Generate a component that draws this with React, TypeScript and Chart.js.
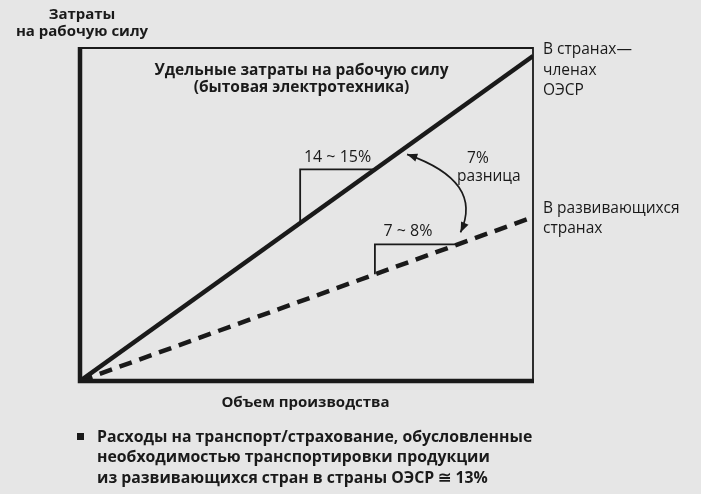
import React, { useEffect, useRef } from "react";
import { Chart, registerables } from "chart.js";

Chart.register(...registerables);

// ---- data ----
const xRange = [0, 100];
const yRange = [0, 100];
const oecdLine = [0, 97.6]; // y at x=0 and x=100 (OECD countries)
const devLine = [0, 49.2]; // y at x=0 and x=100 (developing countries)
const oecdStepX = [48.6, 65.1]; // slope triangle on OECD line
const devStepX = [65.1, 83.4]; // slope triangle on developing line
const stepLabels = ["14 ~ 15%", "7 ~ 8%"];
const diffLabel = ["7%", "разница"];
const oecdLabel = ["В странах—", "членах", "ОЭСР"];
const devLabel = ["В развивающихся", "странах"];
const titleLines = ["Удельные затраты на рабочую силу", "(бытовая электротехника)"];
const yTitle = ["Затраты", "на рабочую силу"];
const xTitle = "Объем производства";
const noteLines = [
  "Расходы на транспорт/страхование, обусловленные",
  "необходимостью транспортировки продукции",
  "из развивающихся стран в страны ОЭСР ≅ 13%",
];

const lineAt = (line: number[], x: number) =>
  line[0] + ((line[1] - line[0]) * (x - xRange[0])) / (xRange[1] - xRange[0]);

const INK = "#1a1a1a";
const FONT = "'Open Sans', 'Noto Sans', sans-serif";

const decorPlugin = {
  id: "decor",
  afterDatasetsDraw(chart: any) {
    const { ctx, chartArea } = chart;
    const xs = chart.scales.x;
    const ys = chart.scales.y;
    const { left, right, top, bottom } = chartArea;
    ctx.save();
    ctx.strokeStyle = INK;
    ctx.lineCap = "butt";
    // thin top & right frame
    ctx.lineWidth = 1.8;
    ctx.beginPath();
    ctx.moveTo(left, top);
    ctx.lineTo(right, top);
    ctx.lineTo(right, bottom);
    ctx.stroke();
    // thick axes
    ctx.lineWidth = 4.5;
    ctx.beginPath();
    ctx.moveTo(left, top - 0.9);
    ctx.lineTo(left, bottom);
    ctx.lineTo(right + 1, bottom);
    ctx.stroke();

    ctx.fillStyle = INK;
    ctx.textBaseline = "middle";

    // slope labels
    ctx.font = `400 16px ${FONT}`;
    ctx.textAlign = "center";
    const t1y = ys.getPixelForValue(lineAt(oecdLine, oecdStepX[1]));
    ctx.fillText(
      stepLabels[0],
      (xs.getPixelForValue(oecdStepX[0]) + xs.getPixelForValue(oecdStepX[1])) / 2,
      t1y - 12
    );
    const t2y = ys.getPixelForValue(lineAt(devLine, devStepX[1]));
    ctx.fillText(
      stepLabels[1],
      xs.getPixelForValue(devStepX[0]) + 33,
      t2y - 13
    );

    // curved double arrow
    const p0x = xs.getPixelForValue(72.2);
    const p0y = ys.getPixelForValue(lineAt(oecdLine, 72.2)) + 8;
    const p2x = xs.getPixelForValue(84.0);
    const p2y = ys.getPixelForValue(lineAt(devLine, 84.0)) - 11;
    const cx = p0x + 77;
    const cy = p0y + 27;
    ctx.lineWidth = 1.7;
    ctx.beginPath();
    ctx.moveTo(p0x, p0y);
    ctx.quadraticCurveTo(cx, cy, p2x, p2y);
    ctx.stroke();
    const head = (tx: number, ty: number, fx: number, fy: number) => {
      const a = Math.atan2(ty - fy, tx - fx);
      const L = 11, W = 0.38;
      ctx.beginPath();
      ctx.moveTo(tx, ty);
      ctx.lineTo(tx - L * Math.cos(a - W), ty - L * Math.sin(a - W));
      ctx.lineTo(tx - L * Math.cos(a + W), ty - L * Math.sin(a + W));
      ctx.closePath();
      ctx.fill();
    };
    head(p0x, p0y, cx, cy);
    head(p2x, p2y, cx, cy);

    ctx.textAlign = "left";
    ctx.font = `400 15.5px ${FONT}`;
    ctx.fillText(diffLabel[0], p0x + 60, p0y + 4);
    ctx.fillText(diffLabel[1], p0x + 50, p0y + 22);

    // series labels on the right
    const oy = ys.getPixelForValue(oecdLine[1]);
    oecdLabel.forEach((s, i) => ctx.fillText(s, right + 10, oy - 6 + i * 20.5));
    const dy = ys.getPixelForValue(devLine[1]);
    devLabel.forEach((s, i) => ctx.fillText(s, right + 10, dy - 9 + i * 20));

    // title inside box
    ctx.font = `700 15.5px ${FONT}`;
    ctx.textAlign = "center";
    const mid = (left + right) / 2;
    titleLines.forEach((s, i) => ctx.fillText(s, mid - 5, top + 23 + i * 17));

    // y title
    ctx.font = `700 15px ${FONT}`;
    yTitle.forEach((s, i) => ctx.fillText(s, left + 2, top - 33 + i * 17));

    // x title
    ctx.font = `700 15px ${FONT}`;
    ctx.fillText(xTitle, mid - 1, bottom + 22);

    // note
    ctx.font = `700 15.8px ${FONT}`;
    ctx.textAlign = "left";
    ctx.fillRect(left - 3, bottom + 52, 7, 7);
    noteLines.forEach((s, i) => ctx.fillText(s, left + 17, bottom + 56 + i * 20.5));

    ctx.restore();
  },
};

export default function App() {
  const ref = useRef<HTMLCanvasElement | null>(null);
  useEffect(() => {
    if (!ref.current) return;
    const triangle = (line: number[], xsPair: number[]) => [
      { x: xsPair[0], y: lineAt(line, xsPair[0]) },
      { x: xsPair[0], y: lineAt(line, xsPair[1]) },
      { x: xsPair[1], y: lineAt(line, xsPair[1]) },
    ];
    const chart = new Chart(ref.current, {
      type: "scatter",
      data: {
        datasets: [
          {
            label: "OECD",
            data: [
              { x: xRange[0], y: oecdLine[0] },
              { x: xRange[1], y: oecdLine[1] },
            ],
            showLine: true,
            borderColor: INK,
            borderWidth: 4.5,
            pointRadius: 0,
          },
          {
            label: "Developing",
            data: [
              { x: xRange[0], y: devLine[0] },
              { x: xRange[1], y: devLine[1] },
            ],
            showLine: true,
            borderColor: INK,
            borderWidth: 4.5,
            borderDash: [13, 8],
            pointRadius: 0,
          },
          {
            label: "step1",
            data: triangle(oecdLine, oecdStepX),
            showLine: true,
            borderColor: INK,
            borderWidth: 1.8,
            pointRadius: 0,
          },
          {
            label: "step2",
            data: triangle(devLine, devStepX),
            showLine: true,
            borderColor: INK,
            borderWidth: 1.8,
            pointRadius: 0,
          },
        ],
      },
      options: {
        animation: false,
        responsive: false,
        maintainAspectRatio: false,
        layout: { padding: { left: 80, top: 48, right: 168, bottom: 113 } },
        scales: {
          x: { type: "linear", min: xRange[0], max: xRange[1], display: false },
          y: { type: "linear", min: yRange[0], max: yRange[1], display: false },
        },
        plugins: { legend: { display: false }, tooltip: { enabled: false } },
      },
      plugins: [decorPlugin],
    });
    return () => chart.destroy();
  }, []);
  return (
    <div
      style={{
        position: "fixed",
        left: 0,
        top: 0,
        width: 701,
        height: 494,
        background: "#e6e6e6",
      }}
    >
      <canvas ref={ref} width={701} height={494} style={{ width: 701, height: 494 }} />
    </div>
  );
}
